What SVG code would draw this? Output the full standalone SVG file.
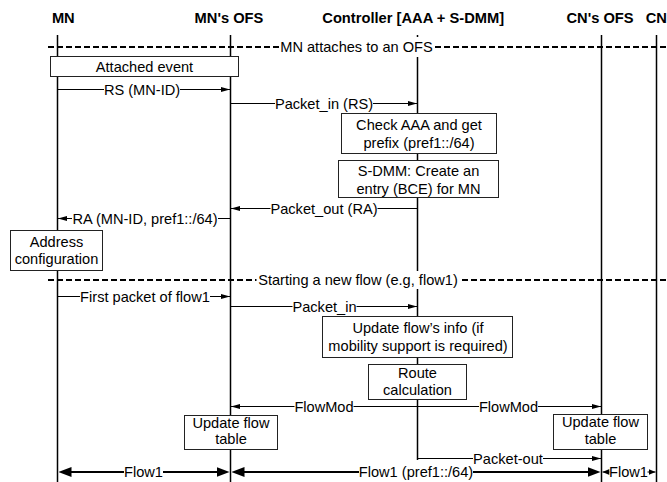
<svg xmlns="http://www.w3.org/2000/svg" width="667" height="482" viewBox="0 0 667 482">
<style>
text{font-family:"Liberation Sans",Arial,Helvetica,sans-serif;font-size:14.6px;fill:#000;text-anchor:middle}
.h{font-weight:bold;font-size:14.7px}
.life{stroke:#000;stroke-width:1.5;fill:none}
.box{fill:#fff;stroke:#222;stroke-width:1}
.msg{stroke:#000;stroke-width:1;fill:none}
.thick{stroke:#000;stroke-width:2;fill:none}
.dash{stroke:#000;stroke-width:2;stroke-dasharray:6 3;fill:none}
.bg{fill:#fff}
</style>
<defs>
<marker id="ah" viewBox="0 0 9 5" refX="9" refY="2.5" markerWidth="9" markerHeight="5" orient="auto-start-reverse" markerUnits="userSpaceOnUse"><path d="M0,0L9,2.5L0,5z"/></marker>
<marker id="ahb" viewBox="0 0 13 10" refX="9" refY="5" markerWidth="13" markerHeight="10" orient="auto-start-reverse" markerUnits="userSpaceOnUse"><path d="M0,0L13,5L0,10z"/></marker>
<marker id="ahs" viewBox="0 0 7 6" refX="7" refY="3" markerWidth="7" markerHeight="6" orient="auto-start-reverse" markerUnits="userSpaceOnUse"><path d="M0,0L7,3L0,6z"/></marker>
</defs>

<g id="mn"><text class="h" x="63.3" y="23">MN</text><line class="life" x1="57.5" y1="35" x2="57.5" y2="482"/></g>
<g id="mn-ofs"><text class="h" x="229" y="23">MN's OFS</text><line class="life" x1="230.5" y1="35" x2="230.5" y2="482"/></g>
<g id="controller"><text class="h" x="413.2" y="23">Controller [AAA + S-DMM]</text><line class="life" x1="417.5" y1="35" x2="417.5" y2="482"/></g>
<g id="cn-ofs"><text class="h" x="600" y="23">CN's OFS</text><line class="life" x1="601.5" y1="35" x2="601.5" y2="482"/></g>
<g id="cn"><text class="h" x="656.3" y="23">CN</text><line class="life" x1="656.5" y1="35" x2="656.5" y2="482"/></g>

<g id="separators">
<line class="dash" x1="48" y1="47" x2="667" y2="47"/>
<rect class="bg" x="280.5" y="37" width="152" height="20"/>
<text x="356.5" y="52">MN attaches to an OFS</text>
<line class="dash" x1="48" y1="280" x2="667" y2="280"/>
<rect class="bg" x="256.5" y="271" width="203" height="18"/>
<text x="358" y="285">Starting a new flow (e.g, flow1)</text>
</g>

<g id="connectors">
<line class="msg" x1="58" y1="89.5" x2="230" y2="89.5" marker-end="url(#ah)"/>
<rect class="bg" x="104" y="81.5" width="76" height="16"/><text x="142" y="94.5">RS (MN-ID)</text>

<line class="msg" x1="231" y1="103.5" x2="417" y2="103.5" marker-end="url(#ah)"/>
<rect class="bg" x="275" y="95.5" width="98" height="16"/><text x="324" y="108.5">Packet_in (RS)</text>

<line class="msg" x1="417" y1="208.5" x2="231" y2="208.5" marker-end="url(#ah)"/>
<rect class="bg" x="270.5" y="200.5" width="107" height="16"/><text x="324" y="213.5">Packet_out (RA)</text>

<line class="msg" x1="230" y1="218.5" x2="58" y2="218.5" marker-end="url(#ah)"/>
<rect class="bg" x="72" y="210.5" width="146" height="16"/><text x="145" y="223.5">RA (MN-ID, pref1::/64)</text>

<line class="msg" x1="58" y1="296.5" x2="230" y2="296.5" marker-end="url(#ah)"/>
<rect class="bg" x="80" y="288.5" width="130" height="16"/><text x="145" y="301.5">First packet of flow1</text>

<line class="msg" x1="231" y1="306.5" x2="417" y2="306.5" marker-end="url(#ah)"/>
<rect class="bg" x="292.5" y="298.5" width="64" height="16"/><text x="324.5" y="311.5">Packet_in</text>

<line class="msg" x1="417" y1="406.5" x2="231" y2="406.5" marker-end="url(#ah)"/>
<rect class="bg" x="294.5" y="398.5" width="59" height="16"/><text x="324" y="411.5">FlowMod</text>

<line class="msg" x1="418" y1="406.5" x2="601" y2="406.5" marker-end="url(#ah)"/>
<rect class="bg" x="479" y="398.5" width="59" height="16"/><text x="508.5" y="411.5">FlowMod</text>

<line class="msg" x1="418" y1="458.5" x2="601" y2="458.5" marker-end="url(#ah)"/>
<rect class="bg" x="473" y="450.5" width="70" height="16"/><text x="508" y="463.5">Packet-out</text>

<line class="thick" x1="62.5" y1="472" x2="225.5" y2="472" marker-start="url(#ahb)" marker-end="url(#ahb)"/>
<rect class="bg" x="124" y="464" width="39" height="16"/><text x="143.5" y="477">Flow1</text>

<line class="thick" x1="235.5" y1="472" x2="596.5" y2="472" marker-start="url(#ahb)" marker-end="url(#ahb)"/>
<rect class="bg" x="359" y="460" width="114" height="22"/><text x="416" y="477">Flow1 (pref1::/64)</text>

<line class="msg" x1="602.5" y1="472" x2="655.5" y2="472" marker-start="url(#ahs)" marker-end="url(#ahs)"/>
<rect class="bg" x="609.5" y="464" width="38" height="16"/><text x="628.5" y="477">Flow1</text>
</g>

<g id="attached-event"><rect class="box" x="50.5" y="56.5" width="188" height="20"/><text x="144.5" y="71.5">Attached event</text></g>
<g id="check-aaa"><rect class="box" x="341.5" y="113.5" width="155" height="40"/><text x="419" y="130">Check AAA and get</text><text x="419" y="148">prefix (pref1::/64)</text></g>
<g id="sdmm-bce"><rect class="box" x="338.5" y="160.5" width="160" height="37"/><text x="418.5" y="176">S-DMM: Create an</text><text x="418.5" y="194">entry (BCE) for MN</text></g>
<g id="address-config"><rect class="box" x="10.5" y="230.5" width="92" height="40"/><text x="56.5" y="246.5">Address</text><text x="56.5" y="264">configuration</text></g>
<g id="update-flow-info"><rect class="box" x="322.5" y="316.5" width="190" height="41"/><text x="418" y="333.3">Update flow’s info (if</text><text x="418" y="351">mobility support is required)</text></g>
<g id="route-calc"><rect class="box" x="368.5" y="364.5" width="98" height="35"/><text x="417.5" y="377.5">Route</text><text x="417.5" y="395">calculation</text></g>
<g id="update-table-mn"><rect class="box" x="184.5" y="415.5" width="93" height="34"/><text x="231" y="427.5">Update flow</text><text x="231" y="444.3">table</text></g>
<g id="update-table-cn"><rect class="box" x="553.5" y="414.5" width="94" height="35"/><text x="600.5" y="427">Update flow</text><text x="600.5" y="444">table</text></g>
</svg>
